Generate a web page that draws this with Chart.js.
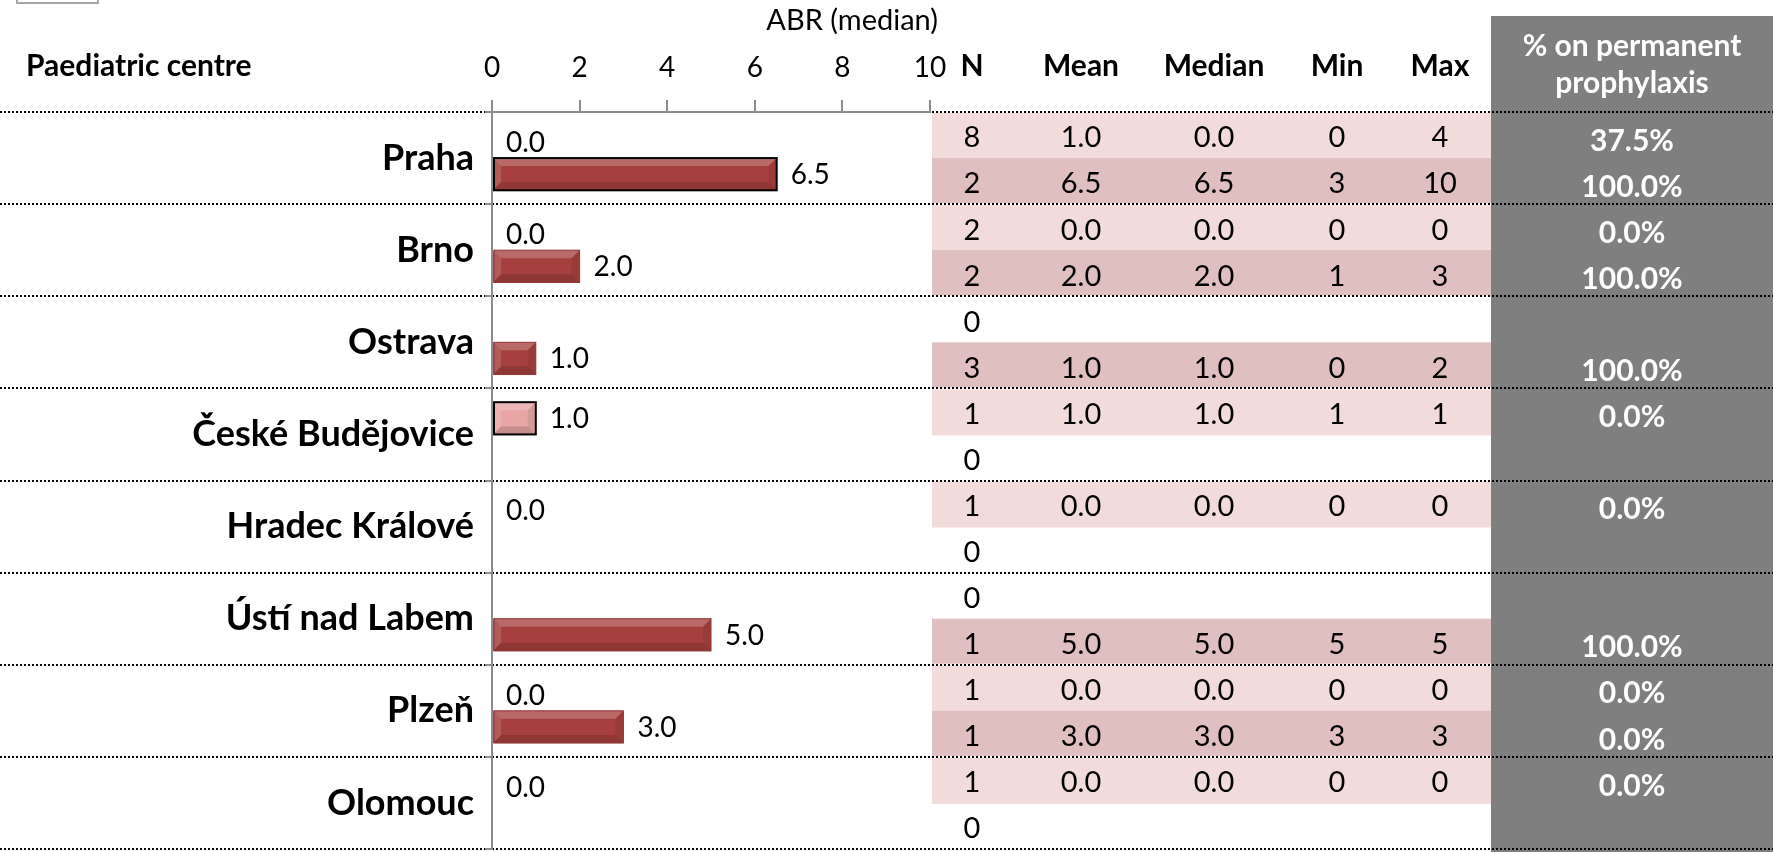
<!DOCTYPE html>
<html><head><meta charset="utf-8">
<script src="https://cdn.jsdelivr.net/npm/chart.js@4.4.1/dist/chart.umd.min.js"></script>
<style>html,body{margin:0;padding:0;background:#fff;overflow:hidden}</style>
</head><body>
<canvas id="c" width="1773" height="852"></canvas>
<script>
// ---- data ----
const centres = ['Praha','Brno','Ostrava','České Budějovice','Hradec Králové','Ústí nad Labem','Plzeň','Olomouc'];
const axisTicks = [0,2,4,6,8,10];
const axisTitle = 'ABR (median)';
// first sub-row of each centre (light series) and second sub-row (dark series)
const n1      = [8, 2, 0, 1, 1, 0, 1, 1];
const n2      = [2, 2, 3, 0, 0, 1, 1, 0];
const mean1   = [1.0, 0.0, null, 1.0, 0.0, null, 0.0, 0.0];
const mean2   = [6.5, 2.0, 1.0, null, null, 5.0, 3.0, null];
const median1 = [0.0, 0.0, null, 1.0, 0.0, null, 0.0, 0.0];
const median2 = [6.5, 2.0, 1.0, null, null, 5.0, 3.0, null];
const min1    = [0, 0, null, 1, 0, null, 0, 0];
const min2    = [3, 1, 0, null, null, 5, 3, null];
const max1    = [4, 0, null, 1, 0, null, 0, 0];
const max2    = [10, 3, 2, null, null, 5, 3, null];
const pct1    = [37.5, 0.0, null, 0.0, 0.0, null, 0.0, 0.0];
const pct2    = [100.0, 100.0, 100.0, null, null, 100.0, 0.0, null];
const headers = ['N','Mean','Median','Min','Max'];

// ---- layout / style ----
const FONT = 'Lato';
const GRAY_LEFT = 1491;
const colX = [972, 1081, 1214, 1337, 1440];
const LIGHT_ROW = '#F2DCDB', DARK_ROW = '#DFBFC0';
const DARK_BAR = '#A6403E', LIGHT_BAR = '#E8A5A4';

const fmt1 = v => v.toFixed(1);
const fmt0 = v => String(v);

const tablePlugin = {
  id: 'tablePlugin',
  beforeDraw(chart) {
    const ctx = chart.ctx, ys = chart.scales.y, xs = chart.scales.x;
    const W = chart.width, H = chart.height;
    ctx.save();
    ctx.fillStyle = '#fff'; ctx.fillRect(0, 0, W, H);
    const band = (ys.bottom - ys.top) / centres.length;
    centres.forEach((c, i) => {
      const yc = ys.getPixelForValue(i);
      if (n1[i] > 0) { ctx.fillStyle = LIGHT_ROW; ctx.fillRect(xs.right + 2, yc - band / 2 + 1, GRAY_LEFT - xs.right - 2, band / 2); }
      if (n2[i] > 0) { ctx.fillStyle = DARK_ROW; ctx.fillRect(xs.right + 2, yc, GRAY_LEFT - xs.right - 2, band / 2 - 1); }
    });
    ctx.fillStyle = '#7F7F7F';
    ctx.fillRect(GRAY_LEFT, 16, W - GRAY_LEFT, H - 16);
    ctx.strokeStyle = '#000'; ctx.lineWidth = 2; ctx.setLineDash([2, 2]);
    for (let i = 0; i <= centres.length; i++) {
      const y = Math.round(ys.top + i * band);
      ctx.beginPath(); ctx.moveTo(0, y); ctx.lineTo(W, y); ctx.stroke();
    }
    ctx.setLineDash([]);
    ctx.strokeStyle = '#A6A6A6'; ctx.lineWidth = 2;
    ctx.strokeRect(17, -6, 81, 9);
    ctx.restore();
  },
  afterDatasetsDraw(chart) {
    const ctx = chart.ctx;
    ctx.save();
    chart.data.datasets.forEach((ds, di) => {
      const meta = chart.getDatasetMeta(di);
      meta.data.forEach((el, i) => {
        const v = ds.data[i];
        if (v === null || v === undefined) return;
        const p = el.getProps(['x', 'y', 'base', 'height'], true);
        const left = Math.min(p.x, p.base), right = Math.max(p.x, p.base);
        const w = right - left, h = p.height, top = p.y - h / 2, bot = p.y + h / 2;
        const bw = ds.borderWidth[i], bc = ds.borderColor[i];
        if (w > 1) {
          const b = Math.min(h * 0.25, w / 2);
          ctx.fillStyle = 'rgba(255,255,255,0.22)';
          ctx.beginPath(); ctx.moveTo(left, top); ctx.lineTo(right, top); ctx.lineTo(right - b, top + b); ctx.lineTo(left + b, top + b); ctx.closePath(); ctx.fill();
          ctx.fillStyle = 'rgba(255,255,255,0.14)';
          ctx.beginPath(); ctx.moveTo(left, top); ctx.lineTo(left + b, top + b); ctx.lineTo(left + b, bot - b); ctx.lineTo(left, bot); ctx.closePath(); ctx.fill();
          ctx.fillStyle = 'rgba(0,0,0,0.14)';
          ctx.beginPath(); ctx.moveTo(left, bot); ctx.lineTo(right, bot); ctx.lineTo(right - b, bot - b); ctx.lineTo(left + b, bot - b); ctx.closePath(); ctx.fill();
          ctx.fillStyle = 'rgba(0,0,0,0.08)';
          ctx.beginPath(); ctx.moveTo(right, top); ctx.lineTo(right - b, top + b); ctx.lineTo(right - b, bot - b); ctx.lineTo(right, bot); ctx.closePath(); ctx.fill();
          ctx.strokeStyle = bc; ctx.lineWidth = bw;
          // outline centred on the bar edge, as in the original
          ctx.strokeRect(left + 1, top, w - 1, h);
        }
        ctx.fillStyle = '#000';
        ctx.font = `28px ${FONT}`;
        ctx.textAlign = 'left'; ctx.textBaseline = 'middle';
        ctx.fillText(fmt1(v), right + 14, p.y + 1);
      });
    });
    ctx.restore();
  },
  afterDraw(chart) {
    const ctx = chart.ctx, ys = chart.scales.y, xs = chart.scales.x;
    const W = chart.width;
    const band = (ys.bottom - ys.top) / centres.length;
    const grayC = (GRAY_LEFT + W) / 2;
    ctx.save();
    ctx.textBaseline = 'middle';
    ctx.fillStyle = '#000';
    ctx.font = `29px ${FONT}`;
    ctx.textAlign = 'right';
    ctx.fillText(axisTitle, xs.right + 8, 21);
    ctx.font = `bold 30px ${FONT}`;
    ctx.textAlign = 'left';
    ctx.fillText('Paediatric centre', 26, 66);
    ctx.textAlign = 'center';
    headers.forEach((h, k) => ctx.fillText(h, colX[k], 66));
    ctx.fillStyle = '#fff';
    ctx.fillText('% on permanent', grayC, 46);
    ctx.fillText('prophylaxis', grayC, 83);
    const rows = [
      {n: n1, mean: mean1, med: median1, min: min1, max: max1, pct: pct1, off: -band / 4},
      {n: n2, mean: mean2, med: median2, min: min2, max: max2, pct: pct2, off: band / 4}
    ];
    centres.forEach((c, i) => {
      const yc = ys.getPixelForValue(i);
      rows.forEach(r => {
        const y = yc + r.off + 3;
        ctx.fillStyle = '#000';
        ctx.font = `29px ${FONT}`;
        ctx.fillText(fmt0(r.n[i]), colX[0], y);
        if (r.mean[i] !== null) ctx.fillText(fmt1(r.mean[i]), colX[1], y);
        if (r.med[i] !== null) ctx.fillText(fmt1(r.med[i]), colX[2], y);
        if (r.min[i] !== null) ctx.fillText(fmt0(r.min[i]), colX[3], y);
        if (r.max[i] !== null) ctx.fillText(fmt0(r.max[i]), colX[4], y);
        if (r.pct[i] !== null) {
          ctx.fillStyle = '#fff';
          ctx.font = `bold 30px ${FONT}`;
          ctx.fillText(fmt1(r.pct[i]) + '%', grayC, y + 3);
        }
      });
    });
    ctx.restore();
  }
};

const borderCol1 = median1.map((v, i) => i === 3 ? '#000' : '#B06060');
const borderW1 = median1.map((v, i) => i === 3 ? 2 : 1);
const borderCol2 = median2.map((v, i) => i === 0 ? '#000' : '#8E3533');
const borderW2 = median2.map((v, i) => i === 0 ? 2 : 1);

new Chart(document.getElementById('c'), {
  type: 'bar',
  data: {
    labels: centres,
    datasets: [
      {label: 'Row 1', data: median1, backgroundColor: LIGHT_BAR, borderColor: borderCol1, borderWidth: 0, categoryPercentage: 0.70, barPercentage: 1.0},
      {label: 'Row 2', data: median2, backgroundColor: DARK_BAR, borderColor: borderCol2, borderWidth: 0, categoryPercentage: 0.70, barPercentage: 1.0}
    ]
  },
  options: {
    indexAxis: 'y',
    responsive: false,
    animation: false,
    devicePixelRatio: 1,
    layout: {padding: {left: 0, top: 0, right: 843, bottom: 3}},
    plugins: {legend: {display: false}, tooltip: {enabled: false}},
    scales: {
      x: {
        position: 'top', min: 0, max: 10,
        afterBuildTicks: s => { s.ticks = axisTicks.map(v => ({value: v})); },
        afterFit: s => { s.height = 112; s.paddingLeft = 0; s.paddingRight = 0; },
        ticks: {padding: 15, color: '#000', font: {family: FONT, size: 28}},
        grid: {drawOnChartArea: false, tickLength: 12, color: '#8C8C8C', lineWidth: 2},
        border: {color: '#8C8C8C', width: 2}
      },
      y: {
        afterFit: s => { s.width = 492; s.paddingTop = 0; s.paddingBottom = 0; },
        ticks: {padding: 11, color: '#000', font: {family: FONT, weight: 'bold', size: 36}},
        grid: {drawOnChartArea: false, tickLength: 7, color: '#8C8C8C', lineWidth: 2, offset: true},
        border: {color: '#8C8C8C', width: 2}
      }
    }
  },
  plugins: [{id: 'bw', beforeDatasetsDraw(chart) {
    // keep per-bar outline widths for the overlay
    chart.data.datasets[0].borderWidth = borderW1;
    chart.data.datasets[1].borderWidth = borderW2;
  }}, tablePlugin]
});
</script>
</body></html>
